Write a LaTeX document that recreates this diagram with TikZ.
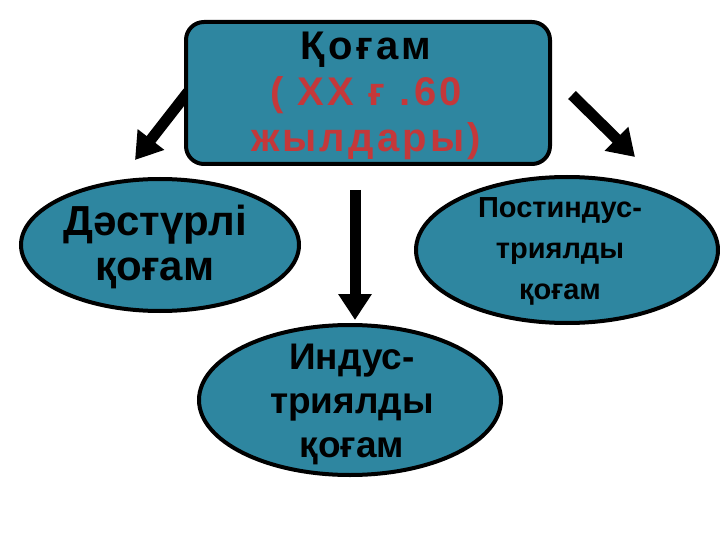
\documentclass[tikz,border=0pt]{standalone}
\usepackage{fontspec}
\setmainfont{Liberation Sans}
\usetikzlibrary{arrows.meta,shapes.geometric}
\definecolor{teal1}{HTML}{2E86A0}
\definecolor{redt}{HTML}{C4383A}
\tikzset{
 box/.style={draw=black,line width=4pt,fill=teal1,rounded corners=18pt,minimum width=364pt,minimum height=142pt,inner sep=0pt},
 ell/.style={draw=black,line width=4pt,fill=teal1,ellipse,inner sep=0pt},
 lbl/.style={font=\bfseries\fontsize{42}{45}\selectfont,align=center},
 barrow/.style={line width=11pt,-{Triangle[width=32pt,length=26pt]}}
}
\begin{document}
\begin{tikzpicture}[x=1pt,y=-1pt]
\useasboundingbox (0,0) rectangle (720,540);
\coordinate (l1) at (188,92); \coordinate (l2) at (135,160);
\coordinate (m1) at (355,190); \coordinate (m2) at (355,320);
\coordinate (r1) at (572,95); \coordinate (r2) at (635,157);
\draw[barrow] (l1) -- (l2);
\draw[barrow] (m1) -- (m2);
\draw[barrow] (r1) -- (r2);
\node[box] (top) at (368,93) {};
\node[lbl,font=\bfseries\fontsize{40}{46}\selectfont\addfontfeatures{LetterSpace=8}] (tt) at (366,96) {Қоғам\\\textcolor{redt}{( XX ғ .60}\\\textcolor{redt}{жылдары)}};
\node[ell,minimum width=278pt,minimum height=132pt] (left) at (160,245) {};
\node[lbl] (lt) at (155,247) {Дәстүрлі\\қоғам};
\node[ell,minimum width=302pt,minimum height=146pt] (right) at (567,250) {};
\node[lbl,font=\bfseries\fontsize{29}{41}\selectfont] (rt) at (560,251) {Постиндус-\\триялды\\қоғам};
\node[ell,minimum width=302pt,minimum height=150pt] (bot) at (350,400) {};
\node[lbl,font=\bfseries\fontsize{37}{44}\selectfont] (bt) at (352,404) {Индус-\\триялды\\қоғам};
\end{tikzpicture}
\end{document}
